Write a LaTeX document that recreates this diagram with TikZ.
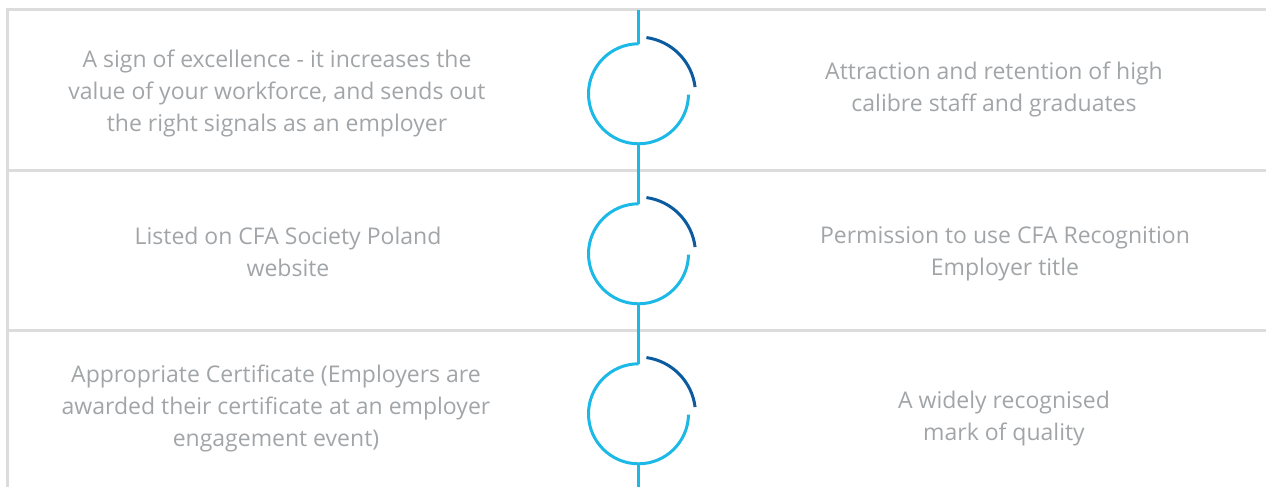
\documentclass[tikz,border=0pt]{standalone}
\usepackage{fontspec}
\setmainfont{Open Sans}
\usepackage{tikz}

\definecolor{rulegray}{HTML}{DCDCDC}
\definecolor{textgray}{HTML}{A2A5A8}
\definecolor{lightblue}{HTML}{1DB9E6}
\definecolor{darkblue}{HTML}{0B5BA1}

\begin{document}
\begin{tikzpicture}[x=1pt, y=-1pt,
        rule/.style = {rulegray, line width=3pt},
        txt/.style = {textgray, align=center, font=\fontsize{23}{32}\selectfont, inner sep=0pt},
        ring/.style = {circle, minimum size=100pt, inner sep=0pt},
        light/.style = {lightblue, line width=3pt},
        dark/.style = {darkblue, line width=3pt}]
                \useasboundingbox (0,0) rectangle (1266,487);

                % table rules
                \draw[rule] (7,487) -- (7,10) -- (1266,10);
                \draw[rule] (7,170) -- (1266,170);
                \draw[rule] (7,330) -- (1266,330);

                % rings
                \node[ring] at (638.5, 94) (c1) {};
                \node[ring] at (638.5, 254) (c2) {};
                \node[ring] at (638.5, 414) (c3) {};
                \coordinate (top) at (638.5, 10);
                \coordinate (bot) at (638.5, 487);

                \draw[light] (top) -- (c1.north);
                \draw[light] (c1.south) -- (c2.north);
                \draw[light] (c2.south) -- (c3.north);
                \draw[light] (c3.south) -- (bot);

                \foreach \c in {c1, c2, c3} {
                    \draw[light] (\c.north) arc[start angle=90, end angle=359, radius=50pt];
                    \draw[dark] (\c) ++(82:57pt) arc[start angle=82, end angle=7, radius=57pt];
                }

                % left column
                \node[txt] at (277, 93) (l1) {A sign of excellence - it increases the\\value of your workforce, and sends out\\the right signals as an employer};
                \node[txt] at (288, 252) (l2) {Listed on CFA Society Poland\\website};
                \node[txt] at (276, 408) (l3) {Appropriate Certificate (Employers are\\awarded their certificate at an employer\\engagement event)};

                % right column
                \node[txt] at (994, 89) (r1) {Attraction and retention of high\\calibre staff and graduates};
                \node[txt] at (1005, 254) (r2) {Permission to use CFA Recognition\\Employer title};
                \node[txt] at (1004, 419) (r3) {A widely recognised\\mark of quality};
            \end{tikzpicture}
\end{document}
